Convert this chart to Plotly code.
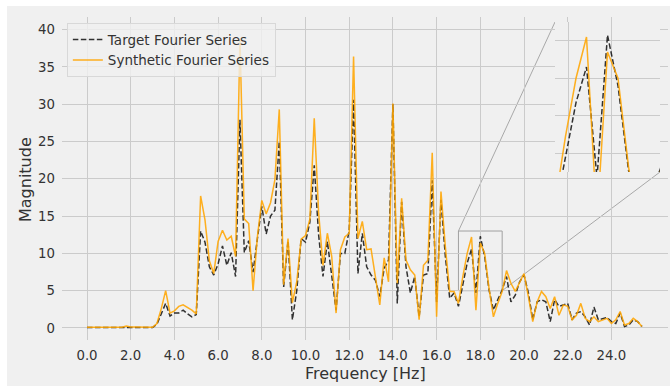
import plotly.graph_objects as go

# ---------------- data ----------------
freq = [0.0, 0.2, 0.4, 0.6, 0.8, 1.0, 1.2, 1.4, 1.6, 1.8,
        2.0, 2.2, 2.4, 2.6, 2.8, 3.0, 3.2, 3.4, 3.6, 3.8,
        4.0, 4.2, 4.4, 4.6, 4.8, 5.0, 5.2, 5.4, 5.6, 5.8,
        6.0, 6.2, 6.4, 6.6, 6.8, 7.0, 7.2, 7.4, 7.6, 7.8,
        8.0, 8.2, 8.4, 8.6, 8.8, 9.0, 9.2, 9.4, 9.6, 9.8,
        10.0, 10.2, 10.4, 10.6, 10.8, 11.0, 11.2, 11.4, 11.6, 11.8,
        12.0, 12.2, 12.4, 12.6, 12.8, 13.0, 13.2, 13.4, 13.6, 13.8,
        14.0, 14.2, 14.4, 14.6, 14.8, 15.0, 15.2, 15.4, 15.6, 15.8,
        16.0, 16.2, 16.4, 16.6, 16.8, 17.0, 17.2, 17.4, 17.6, 17.8,
        18.0, 18.2, 18.4, 18.6, 18.8, 19.0, 19.2, 19.4, 19.6, 19.8,
        20.0, 20.2, 20.4, 20.6, 20.8, 21.0, 21.2, 21.4, 21.6, 21.8,
        22.0, 22.2, 22.4, 22.6, 22.8, 23.0, 23.2, 23.4, 23.6, 23.8,
        24.0, 24.2, 24.4, 24.6, 24.8, 25.0, 25.2, 25.4]

target = [0.05, 0.05, 0.05, 0.05, 0.05, 0.05, 0.05, 0.05, 0.05, 0.15,
          0.1, 0.1, 0.1, 0.1, 0.1, 0.05, 0.5, 1.8, 3.3, 1.6,
          2.0, 2.0, 2.4, 1.9, 1.5, 1.8, 13.0, 11.5, 8.2, 7.1,
          8.6, 11.0, 8.4, 10.1, 6.9, 27.9, 10.1, 11.7, 7.5, 12.0,
          16.3, 12.6, 15.0, 15.8, 25.0, 5.5, 11.7, 1.1, 5.0, 12.0,
          11.5, 14.2, 21.8, 12.5, 6.9, 11.6, 7.3, 2.4, 10.0, 10.0,
          13.1, 30.6, 7.3, 12.7, 8.2, 7.1, 6.4, 4.2, 8.0, 9.1,
          30.0, 3.3, 16.9, 8.2, 4.7, 6.9, 1.5, 7.1, 7.3, 19.8,
          3.5, 17.2, 9.6, 4.0, 4.7, 2.9, 5.8, 8.7, 10.6, 4.7,
          12.3, 9.6, 5.1, 2.4, 3.8, 5.1, 6.9, 3.5, 4.4, 6.2,
          7.1, 4.7, 1.1, 3.5, 3.8, 3.5, 0.85, 3.8, 2.9, 3.1,
          3.3, 1.1, 2.0, 2.2, 1.5, 0.4, 2.8, 1.1, 1.2, 1.4,
          0.85, 0.6, 2.0, 0.2, 0.4, 1.1, 0.85, 0.2]

synthetic = [0.1, 0.1, 0.1, 0.1, 0.1, 0.1, 0.1, 0.1, 0.1, 0.25,
             0.12, 0.12, 0.12, 0.12, 0.12, 0.1, 0.6, 2.6, 5.0, 2.0,
             2.3, 2.9, 3.1, 2.8, 2.4, 1.9, 17.7, 14.5, 9.0, 7.3,
             11.6, 13.1, 11.8, 12.3, 9.6, 38.8, 14.6, 14.0, 5.0, 12.3,
             17.1, 15.3, 16.8, 19.9, 29.3, 5.8, 12.0, 3.4, 6.2, 11.9,
             12.4, 14.6, 28.1, 15.5, 8.4, 12.7, 9.6, 2.0, 10.5, 12.2,
             12.7, 36.4, 12.0, 14.3, 10.5, 10.6, 6.9, 3.1, 9.4, 6.2,
             30.1, 6.0, 17.4, 9.1, 7.8, 7.1, 1.1, 8.4, 9.1, 23.5,
             1.5, 18.3, 10.9, 4.9, 4.9, 3.3, 6.9, 10.0, 12.2, 2.4,
             11.4, 10.0, 5.3, 1.5, 3.3, 4.9, 7.7, 6.0, 4.9, 6.0,
             7.3, 4.2, 0.85, 3.5, 4.9, 4.2, 2.6, 4.2, 1.7, 3.1,
             2.9, 1.1, 1.7, 3.3, 1.3, 0.85, 1.5, 0.85, 1.1, 1.3,
             0.6, 1.1, 2.2, 0.4, 0.6, 1.3, 0.85, 0.2]

x_tick_vals = [0, 2, 4, 6, 8, 10, 12, 14, 16, 18, 20, 22, 24]
x_tick_text = ["0.0", "2.0", "4.0", "6.0", "8.0", "10.0", "12.0",
               "14.0", "16.0", "18.0", "20.0", "22.0", "24.0"]
y_tick_vals = [0, 5, 10, 15, 20, 25, 30, 35, 40]

inset_xlim = [17, 19]
inset_ylim = [5, 13]
inset_x_grid = [17.25, 18.07]
inset_y_grid = [6, 8, 10, 12]

# ---------------- styling ----------------
W, H = 670, 386
M_L, M_R, M_T, M_B = 62, 2, 17, 46
BG = "#f0f0f0"
GRID = "#cbcbcb"
TXT = "#333333"
FONT = "DejaVu Sans"
main_xr = [-1.144, 26.59]
main_yr = [-1.61, 41.69]

pw, ph = W - M_L - M_R, H - M_T - M_B
inset_dx = [(555 - M_L) / pw, (660 - M_L) / pw]
inset_dy = [(H - M_B - 172) / ph, (H - M_B - 22) / ph]

tgt_line = dict(color="rgba(15,15,15,0.85)", width=1.5, dash="5.5px,2.5px")
syn_line = dict(color="rgba(255,165,0,0.88)", width=1.5)

fig = go.Figure()
fig.add_trace(go.Scatter(x=freq, y=target, mode="lines",
                         name="Target Fourier Series", line=tgt_line))
fig.add_trace(go.Scatter(x=freq, y=synthetic, mode="lines",
                         name="Synthetic Fourier Series", line=syn_line))
fig.add_trace(go.Scatter(x=freq, y=target, mode="lines", line=tgt_line,
                         xaxis="x2", yaxis="y2", showlegend=False, hoverinfo="skip"))
fig.add_trace(go.Scatter(x=freq, y=synthetic, mode="lines", line=syn_line,
                         xaxis="x2", yaxis="y2", showlegend=False, hoverinfo="skip"))

# convert the inset corners to main data coordinates for the connectors
def to_main_x(f):
    return main_xr[0] + f * (main_xr[1] - main_xr[0])

def to_main_y(f):
    return main_yr[0] + f * (main_yr[1] - main_yr[0])

shapes = [
    # figure face (white strip at top/left like the reference)
    dict(type="rect", xref="paper", yref="paper",
         x0=(7 - M_L) / pw, x1=1.2, y0=-0.3, y1=(H - M_B - 6) / ph,
         fillcolor=BG, line=dict(width=0), layer="below"),
    # zoom rectangle
    dict(type="rect", xref="x", yref="y",
         x0=inset_xlim[0], x1=inset_xlim[1], y0=inset_ylim[0], y1=inset_ylim[1],
         line=dict(color="#a0a0a0", width=1), layer="below"),
    # connectors
    dict(type="line", xref="x", yref="y",
         x0=inset_xlim[0], y0=inset_ylim[1],
         x1=to_main_x(inset_dx[0]), y1=to_main_y(inset_dy[1]),
         line=dict(color="#a8a8a8", width=1), layer="below"),
    dict(type="line", xref="x", yref="y",
         x0=inset_xlim[1], y0=inset_ylim[0],
         x1=to_main_x(inset_dx[1]), y1=to_main_y(inset_dy[0]),
         line=dict(color="#a8a8a8", width=1), layer="below"),
]

axis_common = dict(showline=False, zeroline=False, ticks="", gridcolor=GRID, gridwidth=1)

fig.update_layout(
    width=W, height=H,
    margin=dict(l=M_L, r=M_R, t=M_T, b=M_B, pad=0),
    paper_bgcolor="white",
    plot_bgcolor=BG,
    font=dict(family=FONT, size=13.3, color=TXT),
    showlegend=True,
    legend=dict(x=0.008, y=0.981, xanchor="left", yanchor="top",
                bgcolor="rgba(240,240,240,0.8)", bordercolor="#d8d8d8", borderwidth=1,
                font=dict(family=FONT, size=13.5, color=TXT), tracegroupgap=0),
    xaxis=dict(range=main_xr, tickvals=x_tick_vals, ticktext=x_tick_text,
               ticklabelstandoff=6, **axis_common),
    yaxis=dict(range=main_yr, tickvals=y_tick_vals, ticklabelstandoff=6, **axis_common),
    xaxis2=dict(domain=inset_dx, anchor="y2", range=inset_xlim, tickvals=inset_x_grid,
                showticklabels=False, **axis_common),
    yaxis2=dict(domain=inset_dy, anchor="x2", range=inset_ylim, tickvals=inset_y_grid,
                showticklabels=False, **axis_common),
    shapes=shapes,
    annotations=[
        dict(text="Frequency [Hz]", xref="paper", yref="paper", x=0.5,
             y=(H - M_B - 373) / ph, xanchor="center", yanchor="middle",
             showarrow=False, font=dict(family=FONT, size=16, color=TXT)),
        dict(text="Magnitude", xref="paper", yref="paper", x=(25 - M_L) / pw,
             y=(H - M_B - 180) / ph, xanchor="center", yanchor="middle", textangle=-90,
             showarrow=False, font=dict(family=FONT, size=16, color=TXT)),
    ],
)

fig.write_html("out.html", config={"displayModeBar": False},
               post_script="document.body.style.margin='0px';document.body.style.overflow='hidden';")
